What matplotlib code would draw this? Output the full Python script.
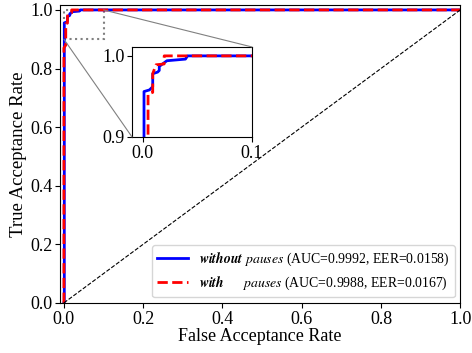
import matplotlib
matplotlib.use('Agg')
import matplotlib.pyplot as plt
from matplotlib.patches import Rectangle, ConnectionPatch

plt.rcParams['font.family'] = ['Liberation Serif', 'DejaVu Serif']
plt.rcParams['mathtext.fontset'] = 'stix'

# ROC points
fpr_without = [0, 0.001, 0.001, 0.006, 0.009, 0.009, 0.0135, 0.015, 0.015, 0.022, 0.039, 0.041, 1.0]
tpr_without = [0, 0, 0.956, 0.958, 0.962, 0.978, 0.98, 0.982, 0.987, 0.994, 0.996, 1.0, 1.0]
fpr_with = [0, 0, 0.0047, 0.0047, 0.009, 0.009, 0.012, 0.0195, 0.0195, 1.0]
tpr_with = [0, 0.87, 0.88, 0.953, 0.955, 0.978, 0.989, 0.99, 1.0, 1.0]

label_without = r'$\mathbfit{without}$ $\mathit{pauses}$ (AUC=0.9992, EER=0.0158)'
label_with = r'$\mathbfit{with}$$\quad\ \ $ $\mathit{pauses}$ (AUC=0.9988, EER=0.0167)'

fig = plt.figure(figsize=(4.72, 3.53), dpi=100)
ax = fig.add_axes([0.127, 0.142, 0.848, 0.844])

ax.plot(fpr_without, tpr_without, color='blue', lw=2, label=label_without)
ax.plot(fpr_with, tpr_with, color='red', lw=2, ls='--', label=label_with)
ax.plot([0, 1], [0, 1], 'k--', lw=0.8)

ax.set_xlim(-0.01, 1.0)
ax.set_ylim(0, 1.017)
ax.set_xlabel('False Acceptance Rate', fontsize=13, labelpad=0)
ax.set_ylabel('True Acceptance Rate', fontsize=13.5, labelpad=2)
ax.tick_params(labelsize=13, pad=2)
ax.legend(loc='lower right', fontsize=9.9, handlelength=2.2, borderaxespad=0.4)

# zoom rectangle
ax.add_patch(Rectangle((0, 0.9), 0.1, 0.1, fill=False, ec='0.5', ls=':', lw=1.5))

axin = fig.add_axes([0.2797, 0.612, 0.254, 0.255])
axin.plot(fpr_without, tpr_without, color='blue', lw=2)
axin.plot(fpr_with, tpr_with, color='red', lw=2, ls='--')
axin.set_xlim(-0.01, 0.1)
axin.set_ylim(0.9, 1.011)
axin.set_xticks([0.0, 0.1])
axin.set_yticks([0.9, 1.0])
axin.tick_params(labelsize=13, pad=2)

for xy_main, xy_in in [((0, 0.9), (-0.01, 0.9)), ((0.1, 1.0), (0.1, 1.011))]:
    con = ConnectionPatch(xyA=xy_main, coordsA=ax.transData, xyB=xy_in, coordsB=axin.transData,
                          color='0.5', lw=0.8)
    fig.add_artist(con)

fig.savefig('out.png', dpi=100)
